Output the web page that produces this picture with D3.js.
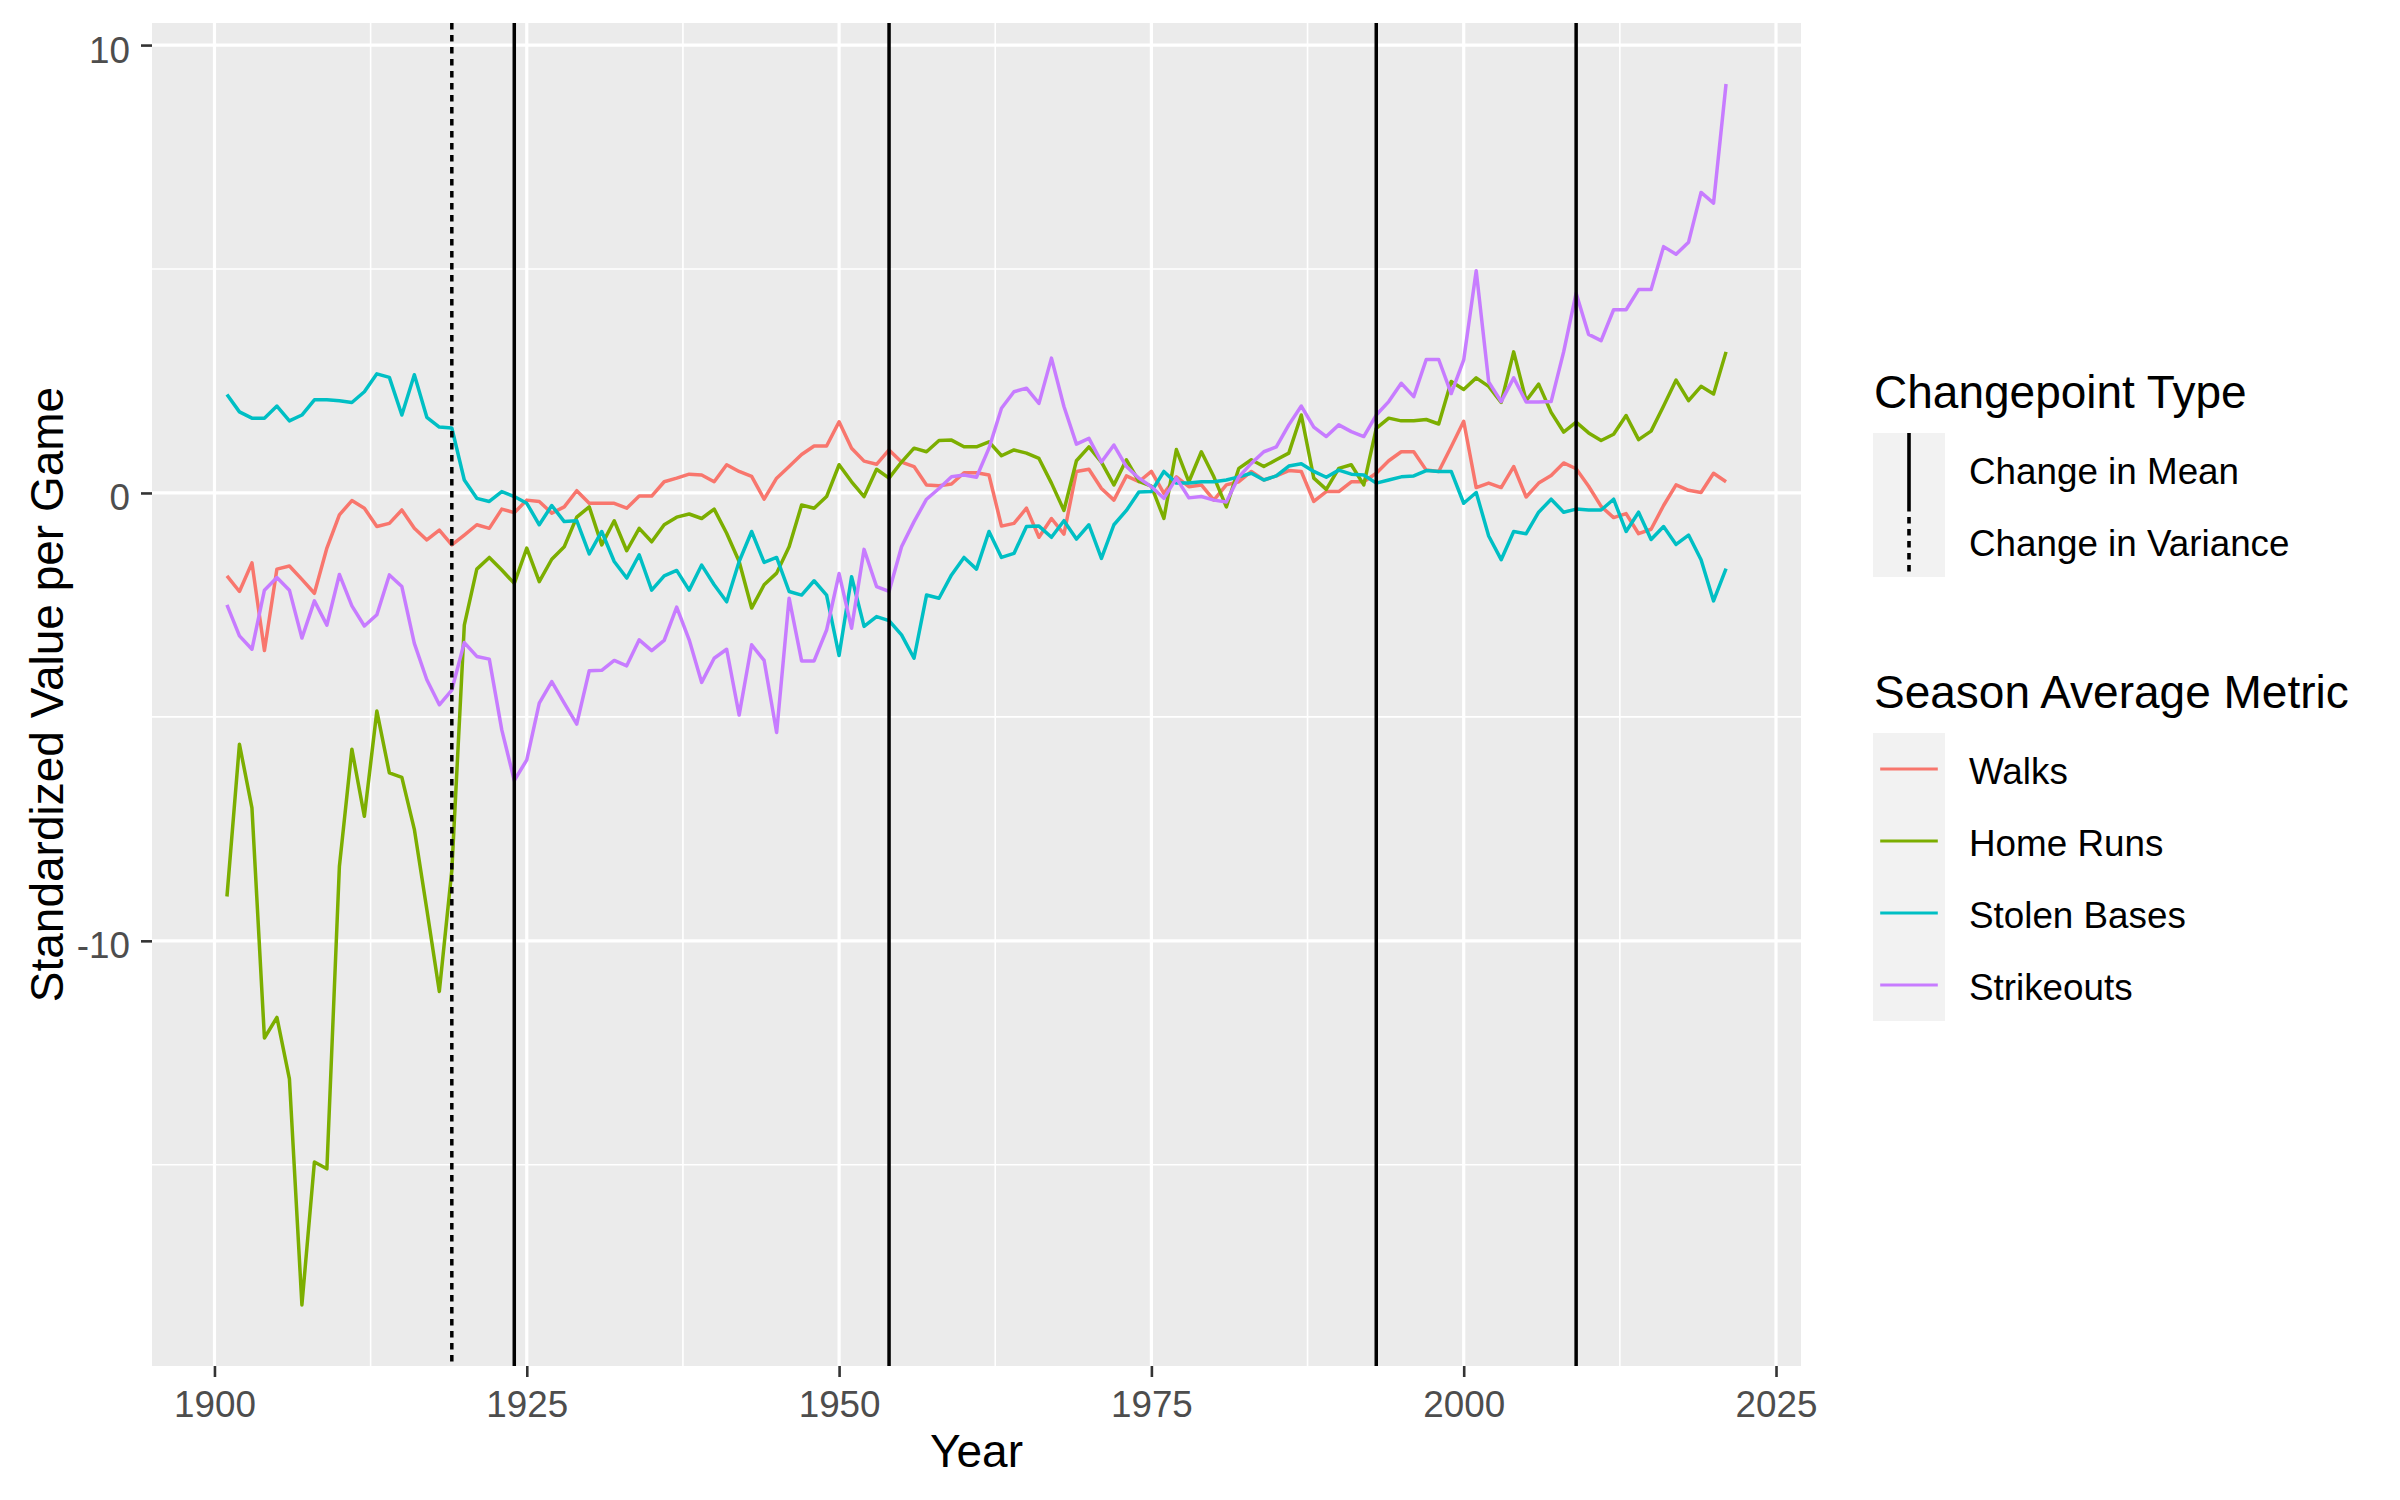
<!DOCTYPE html>
<html>
<head>
<meta charset="utf-8">
<script src="https://cdn.jsdelivr.net/npm/d3@7"></script>
<style>
  html, body { margin: 0; padding: 0; background: #ffffff; }
  svg text { font-family: "Liberation Sans", Arial, sans-serif; }
</style>
</head>
<body>
<svg id="chart" width="2400" height="1500"></svg>
<script>
// ---------------- data ----------------
const startYear = 1901;
const endYear = 2021;
const years = d3.range(startYear, endYear + 1);

const walks = [
  -1.85, -2.20, -1.56, -3.52, -1.70, -1.63, -1.93, -2.24, -1.23, -0.49,
  -0.17, -0.34, -0.75, -0.68, -0.38, -0.79, -1.05, -0.83, -1.16, -0.94,
  -0.71, -0.79, -0.36, -0.44, -0.16, -0.19, -0.45, -0.31, 0.05, -0.23,
  -0.23, -0.23, -0.34, -0.07, -0.07, 0.25, 0.33, 0.42, 0.40, 0.25,
  0.63, 0.48, 0.37, -0.14, 0.33, 0.59, 0.86, 1.05, 1.05, 1.59,
  1.00, 0.71, 0.64, 0.96, 0.69, 0.59, 0.18, 0.16, 0.20, 0.45,
  0.45, 0.40, -0.74, -0.68, -0.34, -0.99, -0.57, -0.92, 0.48, 0.53,
  0.10, -0.16, 0.38, 0.25, 0.48, -0.01, 0.36, 0.14, 0.18, -0.16,
  0.18, 0.25, 0.48, 0.29, 0.38, 0.50, 0.48, -0.19, 0.03, 0.03,
  0.25, 0.25, 0.44, 0.72, 0.92, 0.92, 0.51, 0.48, 1.03, 1.60,
  0.12, 0.22, 0.12, 0.59, -0.09, 0.22, 0.39, 0.67, 0.54, 0.15,
  -0.30, -0.55, -0.46, -0.91, -0.81, -0.28, 0.18, 0.06, 0.01, 0.44,
  0.25
];

const homeRuns = [
  -9.01, -5.61, -7.03, -12.17, -11.71, -13.08, -18.13, -14.94, -15.09, -8.34,
  -5.72, -7.22, -4.87, -6.25, -6.35, -7.51, -9.30, -11.13, -8.43, -2.95,
  -1.70, -1.44, -1.72, -2.02, -1.23, -1.98, -1.48, -1.20, -0.54, -0.31,
  -1.16, -0.62, -1.29, -0.79, -1.09, -0.71, -0.54, -0.47, -0.57, -0.36,
  -0.90, -1.53, -2.57, -2.05, -1.79, -1.20, -0.27, -0.34, -0.08, 0.63,
  0.25, -0.08, 0.53, 0.33, 0.69, 1.00, 0.92, 1.17, 1.18, 1.03,
  1.03, 1.14, 0.83, 0.96, 0.89, 0.77, 0.22, -0.39, 0.72, 1.03,
  0.69, 0.18, 0.74, 0.26, 0.15, -0.57, 0.97, 0.25, 0.92, 0.36,
  -0.31, 0.55, 0.74, 0.59, 0.74, 0.89, 1.74, 0.33, 0.08, 0.55,
  0.63, 0.18, 1.44, 1.67, 1.61, 1.61, 1.64, 1.54, 2.49, 2.31,
  2.57, 2.38, 2.02, 3.15, 2.06, 2.43, 1.80, 1.36, 1.58, 1.34,
  1.17, 1.31, 1.73, 1.19, 1.38, 1.94, 2.52, 2.06, 2.38, 2.21,
  3.15
];

const stolenBases = [
  2.20, 1.81, 1.67, 1.67, 1.94, 1.61, 1.74, 2.08, 2.08, 2.06,
  2.02, 2.26, 2.66, 2.58, 1.74, 2.64, 1.69, 1.47, 1.45, 0.29,
  -0.12, -0.19, 0.03, -0.08, -0.23, -0.71, -0.28, -0.64, -0.62, -1.36,
  -0.86, -1.53, -1.90, -1.38, -2.17, -1.85, -1.73, -2.17, -1.61, -2.05,
  -2.43, -1.53, -0.86, -1.55, -1.44, -2.20, -2.28, -1.96, -2.28, -3.63,
  -1.87, -2.98, -2.76, -2.85, -3.17, -3.69, -2.28, -2.35, -1.83, -1.44,
  -1.70, -0.86, -1.44, -1.35, -0.75, -0.74, -0.99, -0.62, -1.03, -0.71,
  -1.46, -0.71, -0.39, 0.02, 0.03, 0.48, 0.22, 0.22, 0.25, 0.25,
  0.29, 0.36, 0.44, 0.29, 0.38, 0.60, 0.65, 0.48, 0.35, 0.51,
  0.42, 0.40, 0.22, 0.29, 0.36, 0.38, 0.50, 0.48, 0.48, -0.23,
  0.01, -0.96, -1.49, -0.86, -0.91, -0.43, -0.14, -0.43, -0.36, -0.38,
  -0.38, -0.14, -0.86, -0.43, -1.04, -0.75, -1.15, -0.94, -1.49, -2.41,
  -1.69
];

const strikeouts = [
  -2.50, -3.19, -3.49, -2.17, -1.89, -2.17, -3.24, -2.41, -2.95, -1.82,
  -2.52, -2.97, -2.72, -1.83, -2.09, -3.36, -4.17, -4.73, -4.40, -3.34,
  -3.65, -3.71, -5.29, -6.42, -5.96, -4.69, -4.21, -4.69, -5.16, -3.97,
  -3.96, -3.74, -3.86, -3.28, -3.52, -3.29, -2.55, -3.28, -4.23, -3.69,
  -3.49, -4.96, -3.39, -3.74, -5.35, -2.35, -3.75, -3.75, -3.06, -1.80,
  -3.02, -1.26, -2.09, -2.20, -1.20, -0.64, -0.14, 0.10, 0.36, 0.40,
  0.35, 1.00, 1.89, 2.26, 2.34, 2.00, 3.01, 1.93, 1.09, 1.22,
  0.69, 1.07, 0.59, 0.33, 0.14, -0.12, 0.33, -0.11, -0.08, -0.16,
  -0.20, 0.36, 0.66, 0.92, 1.03, 1.52, 1.94, 1.47, 1.26, 1.52,
  1.37, 1.26, 1.74, 2.04, 2.45, 2.15, 2.98, 2.98, 2.22, 2.97,
  4.96, 2.48, 2.04, 2.57, 2.03, 2.03, 2.04, 3.15, 4.46, 3.54,
  3.40, 4.09, 4.09, 4.54, 4.54, 5.50, 5.33, 5.60, 6.71, 6.47,
  9.13
];

const metricNames = ["Walks", "Home Runs", "Stolen Bases", "Strikeouts"];
const metricColors = ["#F8766D", "#7CAE00", "#00BFC4", "#C77CFF"];

const meanChangeYears = [1924, 1954, 1993, 2009];
const varianceChangeYears = [1919];
const changeTypes = ["Change in Mean", "Change in Variance"];

const xTicks = [1900, 1925, 1950, 1975, 2000, 2025];
const xMinorTicks = [1912.5, 1937.5, 1962.5, 1987.5, 2012.5];
const yTicks = [-10, 0, 10];
const yTickLabels = ["-10", "0", "10"];
const yMinorTicks = [-15, -5, 5];

// ---------------- layout ----------------
const panel = { left: 152, right: 1801, top: 23, bottom: 1366 };
const FONT = '"Liberation Sans", Arial, sans-serif';

const seriesValues = [walks, homeRuns, stolenBases, strikeouts];
const series = metricNames.map((name, i) => ({
  name, color: metricColors[i],
  values: years.map((y, j) => ({ year: y, v: seriesValues[i][j] }))
}));

const allVals = seriesValues.flat();
const vMin = d3.min(allVals), vMax = d3.max(allVals);
const vPad = (vMax - vMin) * 0.05;
const xPad = (endYear - startYear) * 0.05;

const x = d3.scaleLinear().domain([startYear - xPad, endYear + xPad]).range([panel.left, panel.right]);
const y = d3.scaleLinear().domain([vMin - vPad, vMax + vPad]).range([panel.bottom, panel.top]);

const svg = d3.select("#chart");
svg.append("rect").attr("width", 2400).attr("height", 1500).attr("fill", "#ffffff");

// panel background
svg.append("rect")
  .attr("x", panel.left).attr("y", panel.top)
  .attr("width", panel.right - panel.left).attr("height", panel.bottom - panel.top)
  .attr("fill", "#EBEBEB");

const grid = svg.append("g");
// minor grid
grid.selectAll(".xminor").data(xMinorTicks).enter().append("line")
  .attr("x1", d => x(d)).attr("x2", d => x(d))
  .attr("y1", panel.top).attr("y2", panel.bottom)
  .attr("stroke", "#ffffff").attr("stroke-width", 1.6);
grid.selectAll(".yminor").data(yMinorTicks).enter().append("line")
  .attr("y1", d => y(d)).attr("y2", d => y(d))
  .attr("x1", panel.left).attr("x2", panel.right)
  .attr("stroke", "#ffffff").attr("stroke-width", 1.6);
// major grid
grid.selectAll(".xmajor").data(xTicks).enter().append("line")
  .attr("x1", d => x(d)).attr("x2", d => x(d))
  .attr("y1", panel.top).attr("y2", panel.bottom)
  .attr("stroke", "#ffffff").attr("stroke-width", 3.2);
grid.selectAll(".ymajor").data(yTicks).enter().append("line")
  .attr("y1", d => y(d)).attr("y2", d => y(d))
  .attr("x1", panel.left).attr("x2", panel.right)
  .attr("stroke", "#ffffff").attr("stroke-width", 3.2);

// series lines
const line = d3.line().x(d => x(d.year)).y(d => y(d.v));
svg.append("g").selectAll("path").data(series).enter().append("path")
  .attr("d", d => line(d.values))
  .attr("fill", "none")
  .attr("stroke", d => d.color)
  .attr("stroke-width", 3.5)
  .attr("stroke-linejoin", "round")
  .attr("stroke-linecap", "butt");

// changepoint vertical lines
const vl = svg.append("g");
vl.selectAll(".mean").data(meanChangeYears).enter().append("line")
  .attr("x1", d => x(d)).attr("x2", d => x(d))
  .attr("y1", panel.top).attr("y2", panel.bottom)
  .attr("stroke", "#000000").attr("stroke-width", 3.5);
vl.selectAll(".var").data(varianceChangeYears).enter().append("line")
  .attr("x1", d => x(d)).attr("x2", d => x(d))
  .attr("y1", panel.top).attr("y2", panel.bottom)
  .attr("stroke", "#000000").attr("stroke-width", 3.5)
  .attr("stroke-dasharray", "6.5,5.5");

// axes
const xAxis = d3.axisBottom(x).tickValues(xTicks).tickFormat(d => String(d)).tickSize(11).tickPadding(9);
const gx = svg.append("g").attr("transform", `translate(0,${panel.bottom})`).call(xAxis);
gx.select(".domain").remove();
gx.selectAll(".tick line").attr("stroke", "#333333").attr("stroke-width", 2.6);
gx.selectAll(".tick text").attr("fill", "#4D4D4D").attr("font-size", 36.8)
  .attr("font-family", FONT).attr("dy", null).attr("y", 51);

const yAxis = d3.axisLeft(y).tickValues(yTicks)
  .tickFormat((d, i) => yTickLabels[i]).tickSize(11).tickPadding(10);
const gy = svg.append("g").attr("transform", `translate(${panel.left},0)`).call(yAxis);
gy.select(".domain").remove();
gy.selectAll(".tick line").attr("stroke", "#333333").attr("stroke-width", 2.6);
gy.selectAll(".tick text").attr("fill", "#4D4D4D").attr("font-size", 36.8)
  .attr("font-family", FONT).attr("dy", "0.46em").attr("x", -22);

// axis titles
svg.append("text")
  .attr("x", (panel.left + panel.right) / 2).attr("y", 1467)
  .attr("text-anchor", "middle").attr("font-size", 46).attr("fill", "#000000")
  .attr("font-family", FONT)
  .text("Year");
svg.append("text")
  .attr("transform", `translate(63,${(panel.top + panel.bottom) / 2}) rotate(-90)`)
  .attr("text-anchor", "middle").attr("font-size", 46).attr("fill", "#000000")
  .attr("font-family", FONT)
  .text("Standardized Value per Game");

// legends
const keyX = 1873, keySize = 72, labelX = 1969;
const lg = svg.append("g");

// Changepoint Type legend
lg.append("text").attr("x", 1874).attr("y", 408).attr("font-size", 46)
  .attr("font-family", FONT).attr("fill", "#000").text("Changepoint Type");
const cpTop = 433;
changeTypes.forEach((t, i) => {
  const ky = cpTop + i * keySize;
  lg.append("rect").attr("x", keyX).attr("y", ky).attr("width", keySize).attr("height", keySize)
    .attr("fill", "#F2F2F2");
  const l = lg.append("line")
    .attr("x1", keyX + keySize / 2).attr("x2", keyX + keySize / 2)
    .attr("y1", ky).attr("y2", ky + keySize)
    .attr("stroke", "#000").attr("stroke-width", 3.6);
  if (i === 1) l.attr("stroke-dasharray", "6.5,5.5");
  lg.append("text").attr("x", labelX).attr("y", ky + keySize / 2 + 15)
    .attr("font-size", 36.8).attr("font-family", FONT).attr("fill", "#000").text(t);
});

// Season Average Metric legend
lg.append("text").attr("x", 1874).attr("y", 708).attr("font-size", 46)
  .attr("font-family", FONT).attr("fill", "#000").text("Season Average Metric");
const mTop = 733;
series.forEach((s, i) => {
  const ky = mTop + i * keySize;
  lg.append("rect").attr("x", keyX).attr("y", ky).attr("width", keySize).attr("height", keySize)
    .attr("fill", "#F2F2F2");
  lg.append("line")
    .attr("x1", keyX + keySize * 0.1).attr("x2", keyX + keySize * 0.9)
    .attr("y1", ky + keySize / 2).attr("y2", ky + keySize / 2)
    .attr("stroke", s.color).attr("stroke-width", 3.2);
  lg.append("text").attr("x", labelX).attr("y", ky + keySize / 2 + 15)
    .attr("font-size", 36.8).attr("font-family", FONT).attr("fill", "#000").text(s.name);
});
</script>
</body>
</html>
